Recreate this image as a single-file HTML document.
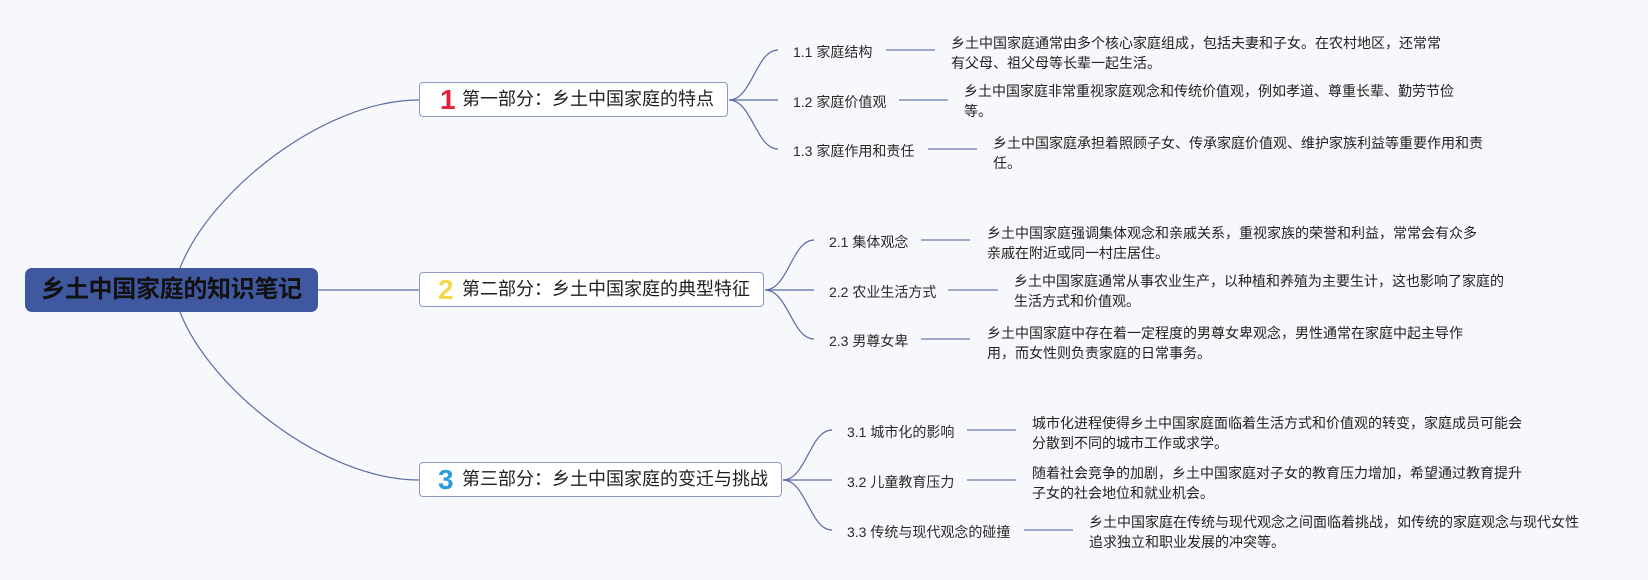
<!DOCTYPE html>
<html>
<head>
<meta charset="utf-8">
<style>
  html,body{margin:0;padding:0;}
  body{width:1648px;height:580px;background:#f7f8fb;position:relative;overflow:hidden;
       font-family:"Liberation Sans","Noto Sans CJK SC",sans-serif;color:#222;}
  .abs{position:absolute;white-space:nowrap;}
  .root{position:absolute;left:25px;top:268px;width:293px;height:44px;background:#4058a0;border-radius:7px;
        font-weight:bold;font-size:24px;letter-spacing:-0.3px;color:#111;line-height:44px;text-align:center;}
  .sec{position:absolute;left:419px;height:35px;background:#fff;border:1.5px solid #8e98c4;border-radius:4px;box-sizing:border-box;}
  .sec .num{position:absolute;left:18px;top:0;height:33px;line-height:33px;font-size:28px;font-weight:bold;font-family:"Liberation Sans",sans-serif;}
  .sec .t{position:absolute;left:42px;top:0;height:33px;line-height:33px;font-size:18px;color:#1f1f1f;white-space:nowrap;}
  .sub{position:absolute;white-space:nowrap;font-size:14px;line-height:20px;color:#2a2a2a;}
  .desc{position:absolute;white-space:nowrap;font-size:14px;line-height:20px;color:#222;}
</style>
</head>
<body>
<svg width="1648" height="580" style="position:absolute;left:0;top:0">
  <g fill="none" stroke="#5c6ba6" stroke-width="1.2">
    <!-- root curves -->
    <path d="M180,268 C210,191 324,100 419,100"/>
    <path d="M180,312 C210,389 324,480 419,480"/>
    <line x1="318" y1="290" x2="419" y2="290"/>
    <!-- section 1 branches -->
    <path d="M729,100 C752,100 756,50 778,50"/>
    <line x1="729" y1="100" x2="778" y2="100"/>
    <path d="M729,100 C752,100 756,149 778,149"/>
    <!-- section 2 branches -->
    <path d="M765,290 C788,290 792,240 814,240"/>
    <line x1="765" y1="290" x2="814" y2="290"/>
    <path d="M765,290 C788,290 792,339 814,339"/>
    <!-- section 3 branches -->
    <path d="M783,480 C806,480 810,430 832,430"/>
    <line x1="783" y1="480" x2="832" y2="480"/>
    <path d="M783,480 C806,480 810,530 832,530"/>
  </g>
  <g stroke="#a0a8cc" stroke-width="2">
    <line x1="886" y1="50" x2="935" y2="50"/>
    <line x1="899" y1="100" x2="948" y2="100"/>
    <line x1="928" y1="149" x2="977" y2="149"/>
    <line x1="921" y1="240" x2="970" y2="240"/>
    <line x1="948" y1="290" x2="998" y2="290"/>
    <line x1="921" y1="339" x2="970" y2="339"/>
    <line x1="967" y1="430" x2="1016" y2="430"/>
    <line x1="967" y1="480" x2="1016" y2="480"/>
    <line x1="1024" y1="530" x2="1073" y2="530"/>
  </g>
</svg>

<div class="root">乡土中国家庭的知识笔记</div>

<div class="sec" style="top:82px;width:309px;"><span class="num" style="color:#e3203b;left:20px;">1</span><span class="t">第一部分：乡土中国家庭的特点</span></div>
<div class="sec" style="top:272px;width:345px;"><span class="num" style="color:#f5d74a;">2</span><span class="t">第二部分：乡土中国家庭的典型特征</span></div>
<div class="sec" style="top:462px;width:363px;"><span class="num" style="color:#2b9ddf;">3</span><span class="t">第三部分：乡土中国家庭的变迁与挑战</span></div>

<div class="sub" style="left:793px;top:42px;">1.1 家庭结构</div>
<div class="sub" style="left:793px;top:92px;">1.2 家庭价值观</div>
<div class="sub" style="left:793px;top:141px;">1.3 家庭作用和责任</div>

<div class="sub" style="left:829px;top:232px;">2.1 集体观念</div>
<div class="sub" style="left:829px;top:282px;">2.2 农业生活方式</div>
<div class="sub" style="left:829px;top:331px;">2.3 男尊女卑</div>

<div class="sub" style="left:847px;top:422px;">3.1 城市化的影响</div>
<div class="sub" style="left:847px;top:472px;">3.2 儿童教育压力</div>
<div class="sub" style="left:847px;top:522px;">3.3 传统与现代观念的碰撞</div>

<div class="desc" style="left:951px;top:33px;">乡土中国家庭通常由多个核心家庭组成，包括夫妻和子女。在农村地区，还常常<br>有父母、祖父母等长辈一起生活。</div>
<div class="desc" style="left:964px;top:81px;">乡土中国家庭非常重视家庭观念和传统价值观，例如孝道、尊重长辈、勤劳节俭<br>等。</div>
<div class="desc" style="left:993px;top:133px;">乡土中国家庭承担着照顾子女、传承家庭价值观、维护家族利益等重要作用和责<br>任。</div>

<div class="desc" style="left:987px;top:223px;">乡土中国家庭强调集体观念和亲戚关系，重视家族的荣誉和利益，常常会有众多<br>亲戚在附近或同一村庄居住。</div>
<div class="desc" style="left:1014px;top:271px;">乡土中国家庭通常从事农业生产，以种植和养殖为主要生计，这也影响了家庭的<br>生活方式和价值观。</div>
<div class="desc" style="left:987px;top:323px;">乡土中国家庭中存在着一定程度的男尊女卑观念，男性通常在家庭中起主导作<br>用，而女性则负责家庭的日常事务。</div>

<div class="desc" style="left:1032px;top:413px;">城市化进程使得乡土中国家庭面临着生活方式和价值观的转变，家庭成员可能会<br>分散到不同的城市工作或求学。</div>
<div class="desc" style="left:1032px;top:463px;">随着社会竞争的加剧，乡土中国家庭对子女的教育压力增加，希望通过教育提升<br>子女的社会地位和就业机会。</div>
<div class="desc" style="left:1089px;top:512px;">乡土中国家庭在传统与现代观念之间面临着挑战，如传统的家庭观念与现代女性<br>追求独立和职业发展的冲突等。</div>
</body>
</html>
